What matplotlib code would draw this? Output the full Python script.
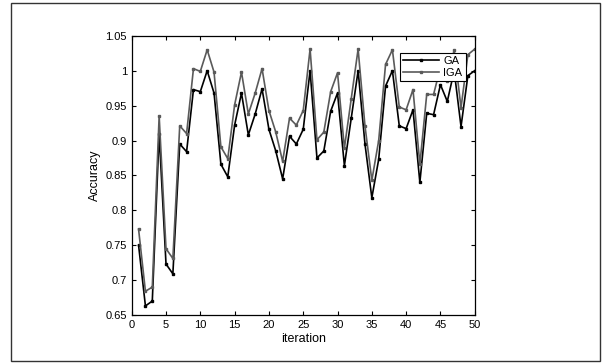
import matplotlib
matplotlib.use("Agg")
import matplotlib.pyplot as plt
from matplotlib.patches import Rectangle

# iteration 1..50
iteracion = list(range(1, 51))

ga = [0.750, 0.663, 0.670, 0.910, 0.723, 0.709, 0.895, 0.884, 0.973, 0.970,
      1.000, 0.968, 0.866, 0.848, 0.922, 0.968, 0.908, 0.938, 0.974, 0.916,
      0.885, 0.845, 0.906, 0.895, 0.916, 1.000, 0.875, 0.885, 0.942, 0.968,
      0.864, 0.932, 1.000, 0.895, 0.818, 0.873, 0.978, 1.000, 0.921, 0.917,
      0.944, 0.840, 0.939, 0.937, 0.980, 0.956, 1.000, 0.920, 0.993, 1.000]

iga = [0.773, 0.684, 0.690, 0.935, 0.745, 0.731, 0.921, 0.910, 1.003, 0.999,
       1.030, 0.998, 0.891, 0.874, 0.951, 0.998, 0.938, 0.968, 1.003, 0.943,
       0.912, 0.870, 0.932, 0.922, 0.943, 1.031, 0.901, 0.912, 0.970, 0.997,
       0.889, 0.960, 1.031, 0.921, 0.843, 0.900, 1.009, 1.030, 0.948, 0.944,
       0.973, 0.866, 0.966, 0.966, 1.005, 0.985, 1.030, 0.947, 1.023, 1.031]

xticks = [0, 5, 10, 15, 20, 25, 30, 35, 40, 45, 50]
yticks = [0.65, 0.7, 0.75, 0.8, 0.85, 0.9, 0.95, 1.0, 1.05]
ytick_labels = ["0.65", "0.7", "0.75", "0.8", "0.85", "0.9", "0.95", "1", "1.05"]

plt.rcParams['font.family'] = ['Liberation Sans', 'DejaVu Sans']

fig = plt.figure(figsize=(6.05, 3.64), dpi=100)
ax = fig.add_axes([0.2177, 0.1346, 0.567, 0.767])

# marco exterior
fig.patches.append(Rectangle((11 / 605, 3 / 364), 589 / 605, 358 / 364,
                             transform=fig.transFigure, fill=False,
                             edgecolor='#333333', linewidth=1.0))

ax.plot(iteracion, ga, color='black', linewidth=1.2, marker='s', markersize=2,
        label='GA')
ax.plot(iteracion, iga, color='#5a5a5a', linewidth=1.2, marker='s', markersize=2,
        label='IGA')

ax.set_xlim(0, 50)
ax.set_ylim(0.65, 1.05)
ax.set_xticks(xticks)
ax.set_yticks(yticks)
ax.set_yticklabels(ytick_labels)
ax.tick_params(direction='in', top=True, right=True, length=3, labelsize=8,
               width=0.8)
for s in ax.spines.values():
    s.set_linewidth(0.9)

ax.set_xlabel('iteration', fontsize=9, labelpad=2)
ax.set_ylabel('Accuracy', fontsize=9, labelpad=3)

leg = ax.legend(loc='upper right', fontsize=8, frameon=True, fancybox=False,
                edgecolor='black', framealpha=1, borderpad=0.3,
                handlelength=3.2, handletextpad=0.4, labelspacing=0.2,
                bbox_to_anchor=(0.99, 0.96))
leg.get_frame().set_linewidth(0.8)

fig.savefig('out.png', dpi=100)
